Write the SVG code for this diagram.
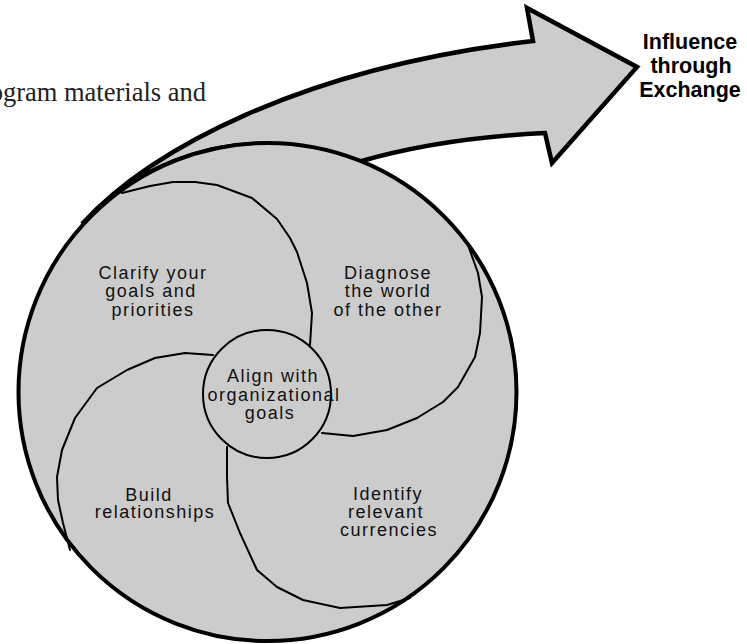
<svg xmlns="http://www.w3.org/2000/svg" width="747" height="644" viewBox="0 0 747 644">
<style>
.fillg{fill:#cccccc;stroke:#000;stroke-linejoin:miter}
.swirl{fill:none;stroke:#000;stroke-width:2;stroke-linejoin:round;stroke-linecap:round}
.lbl{font-family:"Liberation Sans",Arial,sans-serif;font-size:18px;letter-spacing:1.5px;fill:#111;text-anchor:middle}
.big{font-family:"Liberation Sans",Arial,sans-serif;font-size:21.5px;font-weight:bold;fill:#000;text-anchor:middle}
.serif{font-family:"Liberation Serif","Times New Roman",serif;font-size:26.5px;fill:#222;text-anchor:end}
</style>
<rect width="747" height="644" fill="#fff"/>
<text class="serif" x="206" y="101">ogram materials and</text>
<g id="arrow">
<path class="fillg" stroke-width="4.5" d="M 82 224 C 150 150 300 68 533 41 L 527 8 L 637 67 L 552 163 L 545 133 Q 440 138 358 162 A 249 249 0 0 0 82 224 Z"/>
</g>
<g id="outer-circle">
<circle class="fillg" stroke-width="4" cx="267.5" cy="392" r="249"/>
</g>
<g id="connectors">
<path class="swirl" d="M 122 193 L 150 186 L 173 182 L 195 182 L 217 185 L 252 198 L 277 219 L 290 238 L 297 252 L 307 283 L 312 313 L 310 345"/>
<path class="swirl" d="M 468 245 L 478 273 L 482 297 L 480 333 L 475 357 L 458 387 L 443 402 L 417 418 L 387 430 L 353 436 L 322 433"/>
<path class="swirl" d="M 227 447 L 227 477 L 228 503 L 240 533 L 257 570 L 277 587 L 303 600 L 340 608 L 387 605 L 410 598"/>
<path class="swirl" d="M 213 355 L 185 353 L 155 358 L 127 370 L 97 388 L 75 418 L 62 450 L 57 477 L 58 500 L 63 523 L 70 550"/>
</g>
<g id="center">
<circle cx="267" cy="394" r="64" fill="#cccccc" stroke="#000" stroke-width="2"/>
<text class="lbl"><tspan x="273" y="382">Align with</tspan><tspan x="274" y="401">organizational</tspan><tspan x="270" y="419">goals</tspan></text>
</g>
<g id="clarify">
<text class="lbl"><tspan x="153" y="279">Clarify your</tspan><tspan x="151" y="297">goals and</tspan><tspan x="153" y="316">priorities</tspan></text>
</g>
<g id="diagnose">
<text class="lbl"><tspan x="388" y="279">Diagnose</tspan><tspan x="388" y="297">the world</tspan><tspan x="388" y="316">of the other</tspan></text>
</g>
<g id="build">
<text class="lbl"><tspan x="149" y="501">Build</tspan><tspan x="155" y="518">relationships</tspan></text>
</g>
<g id="identify">
<text class="lbl"><tspan x="388" y="500">Identify</tspan><tspan x="386" y="518">relevant</tspan><tspan x="389" y="536">currencies</tspan></text>
</g>
<g id="influence">
<text class="big"><tspan x="690" y="49">Influence</tspan><tspan x="691" y="73">through</tspan><tspan x="690" y="97">Exchange</tspan></text>
</g>
</svg>
